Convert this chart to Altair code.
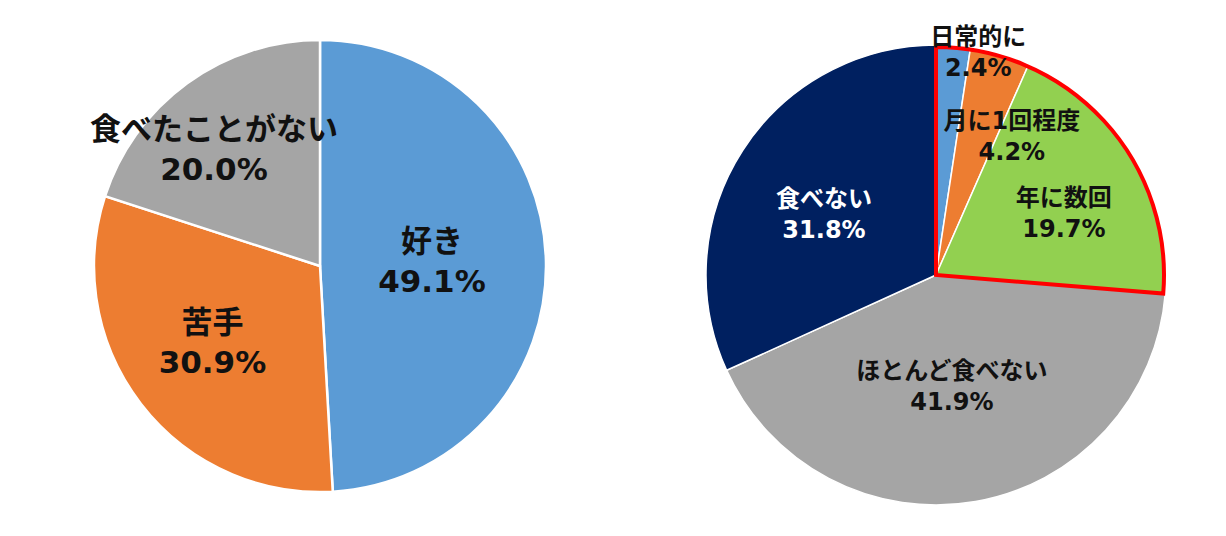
import altair as alt
import pandas as pd

# ---- data ----
left_cats = ["好き", "苦手", "食べたことがない"]
left_vals = [49.1, 30.9, 20.0]

right_cats = ["日常的に", "月に1回程度", "年に数回", "ほとんど食べない", "食べない"]
right_vals = [2.4, 4.2, 19.7, 41.9, 31.8]
highlight = ["日常的に", "月に1回程度", "年に数回"]

# ---- styles ----
left_colors = ["#5B9BD5", "#ED7D31", "#A5A5A5"]
right_colors = ["#5B9BD5", "#ED7D31", "#92D050", "#A5A5A5", "#002060"]
FONT = "DejaVu Sans, Noto Sans CJK JP"

left_df = pd.DataFrame({"cat": left_cats, "val": left_vals, "idx": list(range(len(left_cats)))})
left_df["label"] = [f"{c}\n{v:.1f}%" for c, v in zip(left_cats, left_vals)]
right_df = pd.DataFrame({"cat": right_cats, "val": right_vals, "idx": list(range(len(right_cats)))})
right_df["label"] = [f"{c}\n{v:.1f}%" for c, v in zip(right_cats, right_vals)]

theta_scale = alt.Scale(domain=[0, 100])
color_scale = alt.Scale(domain=left_cats + right_cats, range=left_colors + right_colors)

# pie centres / radii (layout)
LCX, LCY, LR = 312, 258, 226
RCX, RCY, RR = 928, 267, 230


def pie(df, cx, cy, r, sw):
    return alt.Chart(df).mark_arc(radius=r, stroke="white", strokeWidth=sw).encode(
        theta=alt.Theta("val:Q", stack=True, scale=theta_scale),
        color=alt.Color("cat:N", scale=color_scale, legend=None),
        order=alt.Order("idx:Q"),
        x=alt.value(cx),
        y=alt.value(cy),
    )


def label(df, cat, cx, cy, radius, dx, dy, size, lh, color):
    expr = "datum.cat === '" + cat + "' ? datum.label : ''"
    return alt.Chart(df).transform_calculate(show=expr).mark_text(
        radius=radius, dx=dx, dy=dy, fontSize=size, fontWeight="bold", font=FONT,
        lineBreak="\n", lineHeight=lh, color=color, align="center", baseline="middle",
    ).encode(
        theta=alt.Theta("val:Q", stack=True, scale=theta_scale),
        detail="cat:N",
        order=alt.Order("idx:Q"),
        text="show:N",
        x=alt.value(cx),
        y=alt.value(cy),
    )


layers = [pie(left_df, LCX, LCY, LR, 2.5)]
left_label_pos = {"好き": (112, 0, -20), "苦手": (132, -3, -23), "食べたことがない": (160, -12, -6)}
for c in left_cats:
    r, dx, dy = left_label_pos[c]
    layers.append(label(left_df, c, LCX, LCY, r, dx, dy, 31, 40, "#111111"))

layers.append(pie(right_df, RCX, RCY, RR, 1.5))

outline = alt.Chart(right_df).transform_filter(
    alt.FieldOneOfPredicate(field="cat", oneOf=highlight)
).transform_aggregate(total="sum(val)").transform_calculate(start="0").mark_arc(
    radius=RR - 2, fillOpacity=0, stroke="#FF0000", strokeWidth=4, strokeJoin="miter"
).encode(
    theta=alt.Theta("start:Q", scale=theta_scale, stack=None),
    theta2="total:Q",
    x=alt.value(RCX),
    y=alt.value(RCY),
)
layers.append(outline)

right_label_pos = {
    "日常的に": (228, 25, -10),
    "月に1回程度": (150, 34, -9),
    "年に数回": (143, 5, -3),
    "ほとんど食べない": (110, -3, -11),
    "食べない": (132, -1, -4),
}
for c in right_cats:
    r, dx, dy = right_label_pos[c]
    col = "white" if c == "食べない" else "#111111"
    layers.append(label(right_df, c, RCX, RCY, r, dx, dy, 24, 31, col))

chart = alt.layer(*layers).properties(width=1210, height=520, padding=0).configure_view(stroke=None)

chart.save("out.html", embed_options={"renderer": "svg", "actions": False})
